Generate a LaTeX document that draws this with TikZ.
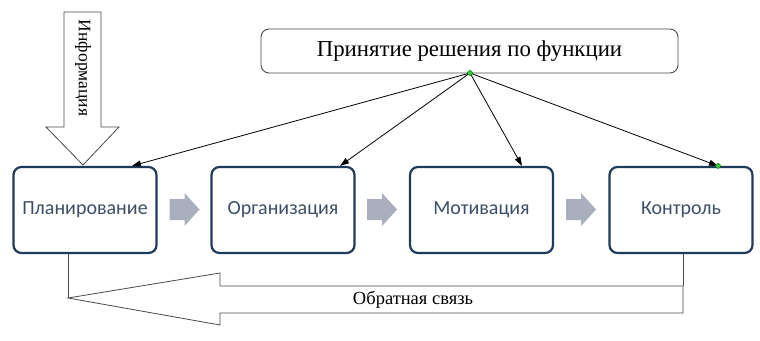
\documentclass[tikz,border=0pt]{standalone}
\usepackage{fontspec}
\setmainfont{Liberation Serif}
\newfontfamily\boxfont{Carlito}
\usetikzlibrary{arrows.meta}
\definecolor{navyb}{HTML}{1F3B5C}
\definecolor{boxtext}{HTML}{3D4F66}
\definecolor{chev}{HTML}{A9AFBD}
\definecolor{outl}{HTML}{4A4A4A}
\definecolor{dotg}{HTML}{33CC33}
\begin{document}
\begin{tikzpicture}[x=1pt,y=-1pt,
  stage/.style={draw=navyb, line width=2.2pt, rounded corners=8pt, fill=white,
    minimum width=143pt, minimum height=86pt, inner sep=0pt,
    font=\boxfont\fontsize{20}{24}\selectfont, text=boxtext},
  topbox/.style={draw=outl, line width=0.9pt, rounded corners=8pt, fill=white,
    minimum width=417pt, minimum height=44pt, inner sep=0pt,
    font=\fontsize{22.8}{26}\selectfont},
  link/.style={-{Triangle[length=9pt,width=6pt]}, line width=0.8pt, black},
  hollow/.style={draw=outl, line width=0.8pt, fill=white},
  chevron/.style={fill=chev},
  gdot/.style={circle, fill=dotg, draw=green!40!black, line width=0.4pt, inner sep=0pt, minimum size=5pt}
]
\useasboundingbox (0,0) rectangle (760,340);

% Information arrow
\path[hollow] (64,12) -- (101,12) -- (101,127) -- (119,127) -- (83,165) -- (46,127) -- (64,127) -- cycle;
\node[rotate=-90, font=\fontsize{17.5}{20}\selectfont] (info) at (83,68) {Информация};

% stage boxes
\node[stage] (p1) at (85,210) {Планирование};
\node[stage] (p2) at (283,210) {Организация};
\node[stage] (p3) at (481.5,210) {Мотивация};
\node[stage] (p4) at (681,210) {Контроль};

% top box
\node[topbox] (top) at (469.5,51) {Принятие решения по функции};
\coordinate (src) at (470,73);

% gray chevrons
\foreach \cx in {184.5,382,581}{
  \path[chevron] (\cx-15,199) -- (\cx,199) -- (\cx,193) -- (\cx+15,209.5) -- (\cx,226) -- (\cx,220) -- (\cx-15,220) -- cycle;
}

% decision arrows
\draw[link] (src) -- ([xshift=47pt]p1.north);
\draw[link] (src) -- ([xshift=57pt]p2.north);
\draw[link] (src) -- ([xshift=40.5pt]p3.north);
\draw[link] (src) -- ([xshift=37pt]p4.north);
\node[gdot] (d1) at (src) {};
\node[gdot] (d2) at ([xshift=37pt]p4.north) {};

% feedback
\coordinate (ftip) at (68,298);
\coordinate (fend) at (683,286);
\draw[outl, line width=0.8pt] ([xshift=-17pt]p1.south) -- (ftip);
\draw[outl, line width=0.8pt] ([xshift=2pt]p4.south) -- (fend);
\path[hollow] (ftip) -- (220,273) -- (220,286) -- (fend) -- (683,313) -- (220,313) -- (220,325) -- cycle;
\node[font=\fontsize{18.5}{21}\selectfont] (fb) at (413,300) {Обратная связь};
\end{tikzpicture}
\end{document}
